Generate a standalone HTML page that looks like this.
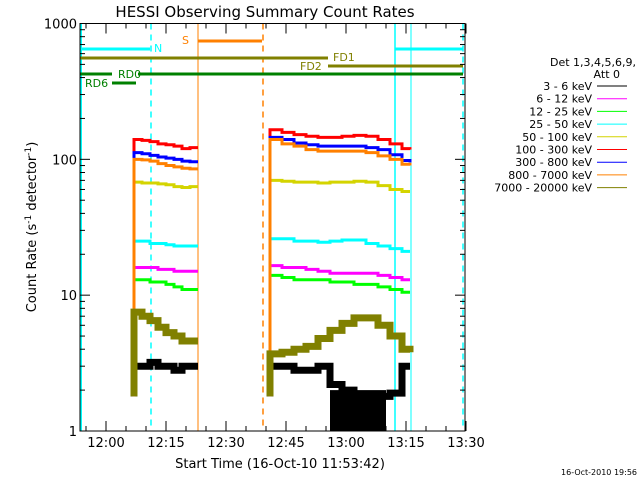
<!DOCTYPE html>
<html><head><meta charset="utf-8"><style>
body{margin:0;background:#fff}
svg{display:block;font-family:"DejaVu Sans","Liberation Sans",sans-serif}
</style></head><body>
<svg id="c" width="640" height="480" viewBox="0 0 640 480">
<rect width="640" height="480" fill="#fff"/>
<text x="265" y="17" font-size="15" text-anchor="middle">HESSI Observing Summary Count Rates</text>
<text transform="translate(36,227) rotate(-90)" font-size="13" text-anchor="middle">Count Rate (s<tspan font-size="9" dy="-5">-1</tspan><tspan dy="5"> detector</tspan><tspan font-size="9" dy="-5">-1</tspan><tspan dy="5">)</tspan></text>
<text x="280" y="468" font-size="13" text-anchor="middle">Start Time (16-Oct-10 11:53:42)</text>
<text x="637" y="475" font-size="8" text-anchor="end">16-Oct-2010 19:56</text>
<g id="axes"></g>
<g id="marks"></g>
<g id="legend"></g>
</svg>
<script>
const NS='http://www.w3.org/2000/svg';
const yTicks=[1,10,100,1000];
const yTickLabels=["1","10","100","1000"];
const xTickLabels=["12:00","12:15","12:30","12:45","13:00","13:15","13:30"];
const channels=["3 - 6 keV","6 - 12 keV","12 - 25 keV","25 - 50 keV","50 - 100 keV","100 - 300 keV","300 - 800 keV","800 - 7000 keV","7000 - 20000 keV"];
const colors=["#000","#f0f","#0f0","#0ff","#d4d400","#f00","#00f","#ff8000","#808000"];
const times1=["12:07","12:09","12:11","12:13","12:15","12:17","12:19","12:21","12:23"];
const times2=["12:41","12:44","12:47","12:50","12:53","12:56","12:59","13:02","13:05","13:08","13:11","13:14","13:16"];
const black1=[3,3,3.2,3,3,2.8,3,3,3];
const mag1=[16,16,16,15.5,15.5,15,15,15,15];
const green1=[13,13,12.5,12.5,12,11.5,11,11,11];
const cyan1=[25,25,24,24,23.5,23,23,23,23];
const yellow1=[68,67,67,66,65,63,62,63,63];
const red1=[140,138,135,130,128,125,120,122,122];
const blue1=[112,110,107,104,102,100,97,96,96];
const orange1=[100,99,97,93,90,88,86,85,85];
const olive1=[7.5,7,6.5,5.8,5.3,5,4.6,4.6,4.6];
const black2=[3,3,2.8,2.8,3,2.2,2,1.8,1.8,1.8,1.9,3,3];
const mag2=[16.5,16,16,15.5,15,14.5,14.5,14.5,14.5,14,13.5,13,13];
const green2=[14,13.5,13,13,13,12.5,12.5,12,12,11.5,11,10.5,10.5];
const cyan2=[26,26,25,25,24.5,25,25.5,25.5,24,23,22,21,21];
const yellow2=[70,69,68,68,67,68,68,69,68,64,60,58,58];
const red2=[165,158,152,148,145,145,148,150,148,140,130,120,118];
const blue2=[145,140,132,128,125,125,125,125,122,118,108,98,95];
const orange2=[140,130,125,118,115,115,115,115,112,106,100,92,90];
const olive2=[3.7,3.8,4,4.2,4.8,5.5,6.2,6.8,6.8,6,5,4,3.8];
const dropoutTimes=["12:56","13:10"];
const dropoutRange=[1,2];
const seg1=[black1,mag1,green1,cyan1,yellow1,red1,blue1,orange1,olive1];
const seg2=[black2,mag2,green2,cyan2,yellow2,red2,blue2,orange2,olive2];

const X0=80,X1=465,Y0=23.5,Y1=431;
function mins(t){const p=t.split(':');return (+p[0])*60+(+p[1]);}
function xs(t){return 106+(mins(t)-720)*4;}
function ys(v){return Y1-(Y1-Y0)*Math.log10(v)/3;}
function el(tag,at,parent){const e=document.createElementNS(NS,tag);for(const k in at)e.setAttribute(k,at[k]);parent.appendChild(e);return e;}
const axes=document.getElementById('axes'),marks=document.getElementById('marks'),leg=document.getElementById('legend');

const widths=[7,3,3,3,3,3,3,3,7];
function drawSeg(times,vals,i){
  let d='';
  for(let j=0;j<times.length;j++){
    const x=xs(times[j]),y=ys(vals[j]);
    if(j===0)d+='M'+x+' '+ys(1.8)+' L'+x+' '+y;
    else d+=' H'+x+' V'+y;
  }
  const p=el('path',{d:d,fill:'none',stroke:colors[i],'stroke-width':widths[i]},marks);
  
  
}
for(let i=0;i<channels.length;i++){drawSeg(times1,seg1[i],i);drawSeg(times2,seg2[i],i);}
const dr=el('rect',{x:xs(dropoutTimes[0]),y:ys(dropoutRange[1]),width:xs(dropoutTimes[1])-xs(dropoutTimes[0]),height:ys(dropoutRange[0])-ys(dropoutRange[1]),fill:'#000'},marks);



function line(x1,y1,x2,y2,c,w,dash,name){const l=el('line',{x1,y1,x2,y2,stroke:c,'stroke-width':w},axes);if(dash)l.setAttribute('stroke-dasharray',dash);

}
line(81,Y0,81,Y1,'#0ff',2,null,'night-end-line');
line(151,Y0,151,Y1,'#0ff',1.5,'6,5','night-start-dashed');
line(198,Y0,198,Y1,'#ff8000',1,null,'saa-start-line');
line(263,Y0,263,Y1,'#ff8000',1.5,'6,5','saa-end-dashed');
line(395,Y0,395,Y1,'#0ff',1.5,null,'night-line');
line(411,Y0,411,Y1,'#0ff',1,null,'night-line-2');
line(463,Y0,463,Y1,'#0ff',1.5,'6,5','night-dashed-2');
line(81,49,150,49,'#0ff',3,null,'night-bar-1');
line(395,49,463,49,'#0ff',3,null,'night-bar-2');
line(198,41,262,41,'#ff8000',3,null,'saa-bar');
line(80,58,328,58,'#808000',3,null,'fd1-bar');
line(328,66,463,66,'#808000',3,null,'fd2-bar');
line(80,74,112,74,'#008000',3,null,'rd0-bar-1');
line(138,74,463,74,'#008000',3,null,'rd0-bar-2');
line(112,83,136,83,'#008000',3,null,'rd6-bar');
function txt(x,y,s,c,name,anchor,size){const t=el('text',{x,y,fill:c,'font-size':size||11,'text-anchor':anchor||'start'},axes);t.textContent=s;

}
txt(154,52,'N','#0ff','label-n');
txt(182,44,'S','#ff8000','label-s');
txt(333,61,'FD1','#808000','label-fd1');
txt(300,70,'FD2','#808000','label-fd2');
txt(118,78,'RD0','#008000','label-rd0');
txt(85,87,'RD6','#008000','label-rd6');

const fr=el('rect',{x:X0,y:Y0,width:X1-X0,height:Y1-Y0,fill:'none',stroke:'#000','stroke-width':1},axes);


for(let dec=0;dec<3;dec++)for(let m=1;m<10;m++){
  const y=ys(Math.pow(10,dec)*m);const L=m===1?10:5;
  line(X0,y,X0+L,y,'#000',1,null,'y-tick');line(X1,y,X1-L,y,'#000',1,null,'y-tick-right');
}
line(X0,ys(1000),X0+10,ys(1000),'#000',1,null,'y-tick');
for(let i=0;i<yTicks.length;i++)txt(77,ys(yTicks[i])+5,yTickLabels[i],'#000','y-tick-label','end',13);
for(let m=-5;m<=90;m+=5){
  const x=106+m*4;const L=m%15===0?10:5;
  line(x,Y1,x,Y1-L,'#000',1,null,'x-tick');line(x,Y0,x,Y0+L,'#000',1,null,'x-tick-top');
}
for(let i=0;i<xTickLabels.length;i++)txt(xs(xTickLabels[i]),447,xTickLabels[i],'#000','x-tick-label','middle',13);

function ltxt(x,y,s,name){const t=el('text',{x,y,'font-size':11,'text-anchor':'end'},leg);t.textContent=s;

}
ltxt(636,66,'Det 1,3,4,5,6,9,','legend-detectors');
ltxt(620,78,'Att 0','legend-attenuator');
for(let i=0;i<channels.length;i++){
  const y=89+i*12.7;
  ltxt(592,y+1,channels[i],'legend-entry');
  const l=el('line',{x1:597,y1:y-3,x2:627,y2:y-3,stroke:colors[i],'stroke-width':1},leg);
  
  
}
</script>
</body></html>
